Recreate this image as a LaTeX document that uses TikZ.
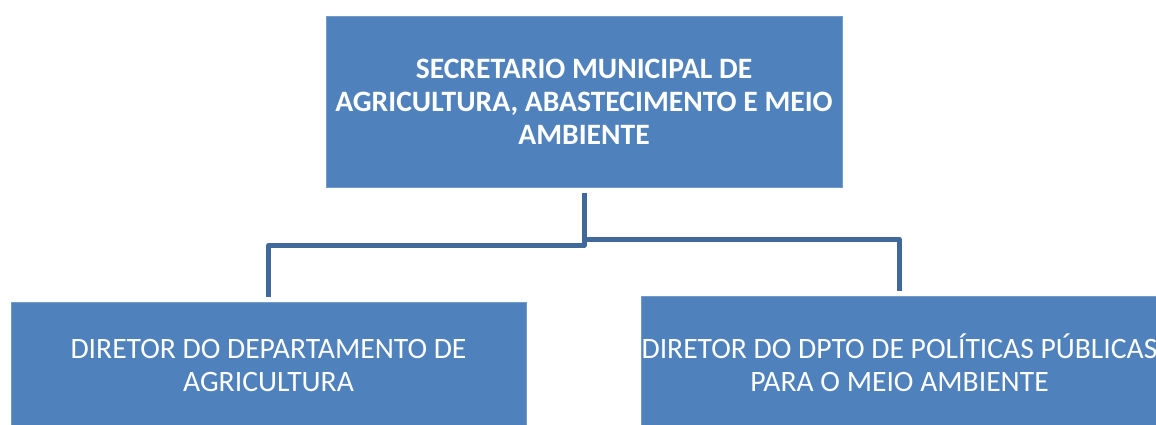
\documentclass[tikz,border=0pt]{standalone}
\usepackage{fontspec}
\setmainfont{Carlito}
\definecolor{boxblue}{HTML}{4F81BD}
\definecolor{connblue}{HTML}{41689A}
\begin{document}
\begin{tikzpicture}[x=1pt,y=-1pt,
  orgbox/.style={fill=boxblue, draw=boxblue!80!white, line width=0.8pt, text=white, align=center,
    inner sep=0pt, font=\fontsize{29.6}{33}\selectfont},
  conn/.style={draw=connblue, line width=5pt, line join=round}]
\useasboundingbox (0,0) rectangle (1156,424);
\node[orgbox, font=\fontsize{29.6}{33}\selectfont\bfseries, minimum width=516pt, minimum height=171pt]
  (top) at (584,101.5) {SECRETARIO MUNICIPAL DE\\AGRICULTURA, ABASTECIMENTO E MEIO\\AMBIENTE};
\node[orgbox, minimum width=515pt, minimum height=126pt]
  (left) at (268.5,365) {DIRETOR DO DEPARTAMENTO DE\\AGRICULTURA};
\node[orgbox, minimum width=515pt, minimum height=134pt]
  (right) at (899.5,363) {DIRETOR DO DPTO DE POLÍTICAS PÚBLICAS\\PARA O MEIO AMBIENTE};
\draw[conn] ([yshift=-6pt]top.south) -- ([yshift=-58pt]top.south) -| ([yshift=5pt]left.north);
\draw[conn] ([yshift=-52pt]top.south) -| ([yshift=5pt]right.north);
\end{tikzpicture}
\end{document}
